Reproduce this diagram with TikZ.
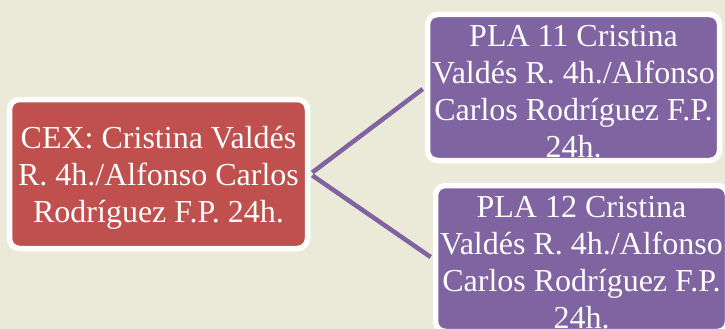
\documentclass[tikz,border=0pt]{standalone}
\usepackage{fontspec}
\setmainfont{Liberation Serif}
\begin{document}
\begin{tikzpicture}[x=1pt,y=-1pt,
  box/.style={draw=white, line width=5.5pt, rounded corners=10pt, inner sep=0pt,
    text=white, align=center, font=\fontsize{32}{37}\selectfont},
  redbox/.style={box, fill=cexred, minimum width=298pt, minimum height=149pt},
  plabox/.style={box, fill=plapurple, minimum width=292pt, minimum height=146pt},
  link/.style={draw=plapurple, line width=4.5pt, shorten <=2.5pt, shorten >=2.5pt}]
\definecolor{bgbeige}{HTML}{EBE9D7}
\definecolor{cexred}{HTML}{C0504D}
\definecolor{plapurple}{HTML}{8064A2}
\fill[bgbeige] (0,0) rectangle (725,329);
\useasboundingbox (0,0) rectangle (725,329);
\clip (0,0) rectangle (725,329);
\node[redbox] (cex) at (158.5,174) {\raisebox{-4pt}[\height][\depth]{\parbox{298pt}{\centering CEX: Cristina Valdés\\R. 4h./Alfonso Carlos\\Rodríguez F.P. 24h.}}};
\node[plabox] (p11) at (573.5,87.5) {\raisebox{-4pt}[\height][\depth]{\parbox{292pt}{\centering PLA 11 Cristina\\Valdés R. 4h./Alfonso\\Carlos Rodríguez F.P.\\24h.}}};
\node[plabox] (p12) at (581.5,258.5) {\raisebox{-4pt}[\height][\depth]{\parbox{292pt}{\centering PLA 12 Cristina\\Valdés R. 4h./Alfonso\\Carlos Rodríguez F.P.\\24h.}}};
\draw[link] (cex.east) -- (p11.west);
\draw[link] (cex.east) -- (p12.west);
\end{tikzpicture}
\end{document}
